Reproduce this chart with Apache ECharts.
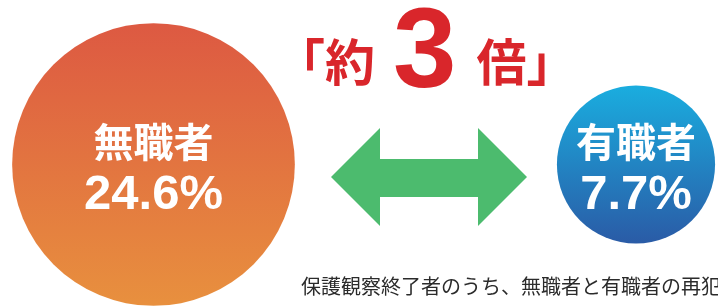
<!DOCTYPE html>
<html>
<head>
<meta charset="utf-8">
<script src="https://cdn.jsdelivr.net/npm/echarts@6/dist/echarts.min.js"></script>
<style>
  html, body { margin: 0; padding: 0; background: #fff; }
  #main { width: 718px; height: 307px; }
</style>
</head>
<body>
<div id="main"></div>
<script>
var groups = ['無職者', '有職者'];
var rates = [24.6, 7.7];
var rowName = ['再犯率'];
var topColors = ['#DD5942', '#1AADDF'];
var bottomColors = ['#E8903E', '#2A5BA6'];

var myChart = echarts.init(document.getElementById('main'));

var seriesData = groups.map(function (g, i) {
    return {
        name: g,
        value: [g, rowName[0], rates[i]],
        itemStyle: {
            opacity: 1,
            color: new echarts.graphic.LinearGradient(0, 0, 0, 1, [
                { offset: 0, color: topColors[i] },
                { offset: 1, color: bottomColors[i] }
            ])
        }
    };
});

var red = '#D9262B';
var kanji = { fontSize: 50, fontWeight: 'bold', color: red, fontFamily: 'Noto Sans CJK JP', verticalAlign: 'bottom', lineHeight: 100, padding: [0, 0, 26, 0] };

var option = {
    animation: false,
    title: [{
        text: '{k|「}{k|約}{n|3}{k|倍}{k|」}',
        left: 270,
        top: 8,
        textStyle: {
            rich: {
                k: kanji,
                n: { fontSize: 114, fontWeight: 'bold', color: red, fontFamily: 'Liberation Sans', verticalAlign: 'bottom', lineHeight: 100, padding: [0, 20, 0, 18] }
            }
        }
    }, {
        text: '保護観察終了者のうち、無職者と有職者の再犯率を比較すると',
        left: 296,
        top: 271,
        textStyle: {
            fontSize: 20,
            fontWeight: 'normal',
            color: '#2b2b2b',
            fontFamily: 'Noto Sans CJK JP'
        }
    }],
    grid: { left: 153.5, right: 82, top: 22, bottom: -14 },
    xAxis: { type: 'category', data: groups, boundaryGap: false, show: false },
    yAxis: { type: 'category', data: rowName, show: false },
    graphic: [{
        type: 'polygon',
        shape: {
            points: [[331, 177], [380, 128], [380, 159], [478, 159], [478, 128], [527, 177],
                     [478, 226], [478, 197], [380, 197], [380, 226]]
        },
        style: { fill: '#4CBB6E' }
    }],
    series: [{
        type: 'scatter',
        clip: false,
        symbol: 'circle',
        symbolSize: function (val) {
            return Math.sqrt(val[2]) * 57;
        },
        data: seriesData,
        label: {
            show: true,
            position: 'inside',
            offset: [0, 4],
            formatter: function (p) {
                return '{n|' + p.name + '}\n{v|' + p.value[2] + '%}';
            },
            rich: {
                n: { fontSize: 40, fontWeight: 'bold', color: '#fff', fontFamily: 'Noto Sans CJK JP', lineHeight: 54, align: 'center' },
                v: { fontSize: 49, fontWeight: 'bold', color: '#fff', fontFamily: 'Liberation Sans', lineHeight: 54, align: 'center' }
            }
        },
        emphasis: { disabled: true }
    }]
};
myChart.setOption(option, true);
</script>
</body>
</html>
